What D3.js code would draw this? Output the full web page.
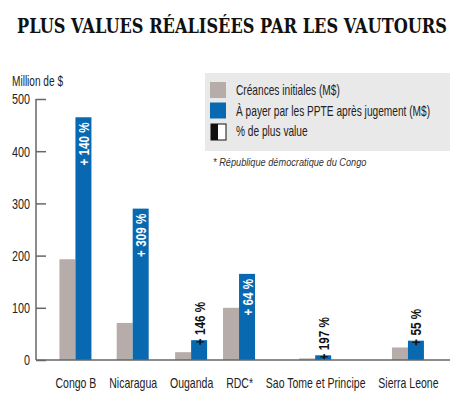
<!DOCTYPE html>
<html>
<head>
<meta charset="utf-8">
<script src="https://cdn.jsdelivr.net/npm/d3@7"></script>
<style>
  body { margin: 0; background: #fff; }
  svg text { font-family: "Liberation Sans", Arial, sans-serif; }
</style>
</head>
<body>
<div id="chart"></div>
<script>
// Data
const categories = ["Congo B", "Nicaragua", "Ouganda", "RDC*", "Sao Tome et Principe", "Sierra Leone"];
const initialClaims = [193, 71, 15, 100, 3, 24];      // Créances initiales (M$)
const toPay = [465, 290, 38, 165, 9, 37];             // À payer par les PPTE après jugement (M$)
const gainPct = [140, 309, 146, 64, 197, 55];         // % de plus value
const yTicks = [0, 100, 200, 300, 400, 500];

const width = 460;
const height = 397;
const greyColor = "#b6adab";
const blueColor = "#0969b0";
const narrow = 0.7; // squeeze factor to mimic the condensed face

// squeeze each text horizontally
function condense(sel, k) {
    sel.each(function () {
        const w = this.getComputedTextLength();
        d3.select(this)
            .attr("textLength", w * k)
            .attr("lengthAdjust", "spacingAndGlyphs");
    });
}

const svg = d3.select("#chart")
    .append("svg")
    .attr("width", width)
    .attr("height", height);

// Title
svg.append("text")
    .attr("x", 17)
    .attr("y", 33)
    .attr("textLength", 430)
    .attr("lengthAdjust", "spacingAndGlyphs")
    .style("font-family", "'DejaVu Serif', serif")
    .style("font-weight", "bold")
    .style("font-size", "20px")
    .style("fill", "#111")
    .text("PLUS VALUES RÉALISÉES PAR LES VAUTOURS");

svg.append("text")
    .attr("x", 12)
    .attr("y", 86)
    .style("font-size", "14px")
    .style("fill", "#222")
    .text("Million de $")
    .call(condense, 0.72);

// Legend box
const legend = svg.append("g");
legend.append("rect")
    .attr("x", 205).attr("y", 73)
    .attr("width", 245).attr("height", 78)
    .attr("fill", "#e9e9e9");

const legendItems = [
    { label: "Créances initiales (M$)", color: greyColor },
    { label: "À payer par les PPTE après jugement (M$)", color: blueColor },
    { label: "% de plus value", color: null }
];
legendItems.forEach((d, i) => {
    const y = 82 + i * 20.5;
    if (d.color) {
        legend.append("rect")
            .attr("x", 210).attr("y", y)
            .attr("width", 16).attr("height", 16)
            .attr("fill", d.color);
    } else {
        legend.append("rect")
            .attr("x", 211).attr("y", y + 1)
            .attr("width", 15).attr("height", 16)
            .attr("fill", "#fff").attr("stroke", "#111");
        legend.append("rect")
            .attr("x", 211).attr("y", y + 1)
            .attr("width", 7).attr("height", 16)
            .attr("fill", "#111");
    }
    legend.append("text")
        .attr("x", 236)
        .attr("y", y + 13)
        .style("font-size", "14.5px")
        .style("fill", "#222")
        .text(d.label)
        .call(condense, narrow);
});

svg.append("text")
    .attr("x", 213)
    .attr("y", 166)
    .style("font-size", "11.5px")
    .style("font-style", "italic")
    .style("fill", "#333")
    .text("* République démocratique du Congo")
    .call(condense, 0.8);

// Scales
const yScale = d3.scaleLinear()
    .domain([0, 500])
    .range([360, 99]);

// Category labels are packed by their widths, as in the original
const labelSize = "15px";
const measure = svg.append("g").attr("opacity", 0);
const widths = categories.map(c => measure.append("text")
    .style("font-size", labelSize).text(c).node().getComputedTextLength() * narrow);
measure.remove();
const left = 55, right = 438;
const gap = (right - left - d3.sum(widths)) / (categories.length - 1);
let cursor = left;
const centers = widths.map(w => { const c = cursor + w / 2; cursor += w + gap; return c; });

const xScale = d3.scaleOrdinal()
    .domain(categories)
    .range(centers);

const seriesScale = d3.scaleBand()
    .domain(["initial", "pay"])
    .range([-16, 16]);

const rows = categories.map((c, i) => ({
    name: c, initial: initialClaims[i], pay: toPay[i], pct: gainPct[i]
}));

// Bars
svg.append("g")
    .selectAll("rect")
    .data(rows)
    .join("rect")
    .attr("x", d => xScale(d.name) + seriesScale("initial"))
    .attr("y", d => yScale(d.initial))
    .attr("width", seriesScale.bandwidth())
    .attr("height", d => yScale(0) - yScale(d.initial))
    .attr("fill", greyColor);

svg.append("g")
    .selectAll("rect")
    .data(rows)
    .join("rect")
    .attr("x", d => xScale(d.name) + seriesScale("pay"))
    .attr("y", d => yScale(d.pay))
    .attr("width", seriesScale.bandwidth())
    .attr("height", d => yScale(0) - yScale(d.pay))
    .attr("fill", blueColor);

// Percent labels, inside tall bars, above short ones
svg.append("g")
    .selectAll("text")
    .data(rows)
    .join("text")
    .each(function (d) {
        const cx = xScale(d.name) + seriesScale("pay") + seriesScale.bandwidth() / 2;
        const top = yScale(d.pay);
        const inside = yScale(0) - top > 70;
        d3.select(this)
            .attr("transform", `translate(${cx + 5.5},${top + 5}) rotate(-90)`)
            .attr("text-anchor", inside ? "end" : "start")
            .style("font-size", "15px")
            .style("font-weight", "bold")
            .style("fill", inside ? "#fff" : "#111")
            .text(`+ ${d.pct} %`);
    })
    .call(condense, 0.78);

// Y axis
const yAxis = svg.append("g")
    .attr("transform", "translate(36,0)")
    .call(d3.axisRight(yScale).tickValues(yTicks).tickSize(10).tickFormat(d => d));
yAxis.select(".domain").remove();
yAxis.selectAll("line").attr("stroke", "#666").attr("stroke-width", 1.5);
yAxis.selectAll("text")
    .attr("x", -6)
    .attr("text-anchor", "end")
    .style("font-size", "15px")
    .style("font-family", "'Liberation Sans', Arial, sans-serif")
    .style("fill", "#222")
    .call(condense, 0.72);
yAxis.append("line")
    .attr("y1", yScale(500)).attr("y2", yScale(0))
    .attr("stroke", "#666").attr("stroke-width", 1.5);

// X axis
const xAxis = svg.append("g")
    .attr("transform", `translate(0,${yScale(0)})`)
    .call(d3.axisBottom(xScale).tickSize(0).tickPadding(17));
xAxis.select(".domain").remove();
xAxis.append("line")
    .attr("x1", 36).attr("x2", 450)
    .attr("stroke", "#666").attr("stroke-width", 1.5);
xAxis.selectAll("text")
    .style("font-size", labelSize)
    .style("font-family", "'Liberation Sans', Arial, sans-serif")
    .style("fill", "#222")
    .call(condense, narrow);
</script>
</body>
</html>
